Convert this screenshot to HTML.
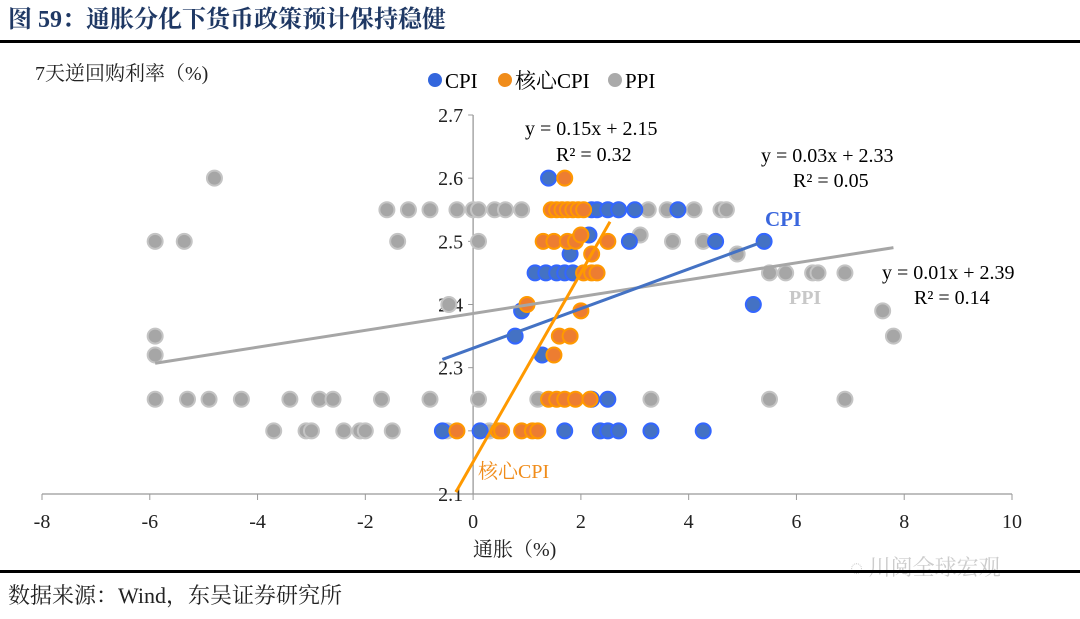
<!DOCTYPE html>
<html><head><meta charset="utf-8">
<style>
body{margin:0;background:#fff;width:1080px;height:614px;overflow:hidden;font-family:"Liberation Serif","Noto Serif CJK SC",serif;}
svg text{font-family:"Liberation Serif","Noto Serif CJK SC",serif;}
</style></head>
<body>
<svg id="chart" width="1080" height="614">
<text x="8" y="27" font-size="24" font-weight="bold" fill="#1f3864">图 59：通胀分化下货币政策预计保持稳健</text>
<rect x="0" y="40" width="1080" height="3" fill="#000"/>
<text x="35" y="80" font-size="20" fill="#222">7天逆回购利率（%)</text>
<g>
<g><circle cx="435" cy="80" r="7" fill="#3366dd"/><text x="445" y="88" font-size="21">CPI</text></g>
<g><circle cx="505" cy="80" r="7" fill="#f08c1a"/><text x="515" y="88" font-size="21">核心CPI</text></g>
<g><circle cx="615" cy="80" r="7" fill="#aaa"/><text x="625" y="88" font-size="21">PPI</text></g>
</g>
<g id="axes"></g>
<g id="marks"></g>
<text x="525" y="135" font-size="20">y = 0.15x + 2.15</text>
<text x="556" y="161" font-size="20">R² = 0.32</text>
<text x="761" y="162" font-size="20">y = 0.03x + 2.33</text>
<text x="793" y="187" font-size="20">R² = 0.05</text>
<text x="882" y="279" font-size="20">y = 0.01x + 2.39</text>
<text x="914" y="304" font-size="20">R² = 0.14</text>
<text x="765" y="226" font-size="21" font-weight="bold" fill="#3a66dd">CPI</text>
<text x="789" y="304" font-size="20" font-weight="bold" fill="#c8c8c8">PPI</text>
<text x="478" y="478" font-size="20" fill="#f08c1a">核心CPI</text>
<text x="473" y="556" font-size="20" fill="#222">通胀（%)</text>
<text x="850" y="575" font-size="22" fill="#ccc">◌ 川阅全球宏观</text>
<rect x="0" y="570" width="1080" height="3" fill="#000"/>
<text x="8" y="603" font-size="22" fill="#222">数据来源：Wind，东吴证券研究所</text>
</svg>
<script>
const xTicks=[-8,-6,-4,-2,0,2,4,6,8,10];
const yTicks=[2.1,2.2,2.3,2.4,2.5,2.6,2.7];
const ppiX=[-4.8,-5.9,-5.36,-1.4,0.1,-1.6,-1.2,-0.8,-0.3,0,0.1,0.4,0.6,0.9,2.7,3.25,3.6,4.1,4.6,4.7,3.7,4.27,3.1,4.9,5.5,5.8,6.3,6.4,6.9,7.6,7.8,5.5,6.9,-0.45,-5.9,-5.9,-5.9,-5.3,-4.9,-4.3,-3.4,-2.85,-2.6,-1.7,-0.8,0.1,1.2,3.3,-3.7,-3.1,-3.0,-2.4,-2.1,-2.0,-1.5,-0.48,0.3];
const ppiY=[2.6,2.5,2.5,2.5,2.5,2.55,2.55,2.55,2.55,2.55,2.55,2.55,2.55,2.55,2.55,2.55,2.55,2.55,2.55,2.55,2.5,2.5,2.51,2.48,2.45,2.45,2.45,2.45,2.45,2.39,2.35,2.25,2.25,2.4,2.35,2.32,2.25,2.25,2.25,2.25,2.25,2.25,2.25,2.25,2.25,2.25,2.25,2.25,2.2,2.2,2.2,2.2,2.2,2.2,2.2,2.2,2.2];
const cpiX=[1.4,2.2,2.3,2.5,2.7,3.0,3.8,2.15,2.9,4.5,5.4,1.8,1.15,1.35,1.55,1.7,1.85,5.2,0.9,0.78,1.28,2.2,2.5,-0.57,0.13,1.7,2.36,2.5,2.7,3.3,4.27];
const cpiY=[2.6,2.55,2.55,2.55,2.55,2.55,2.55,2.51,2.5,2.5,2.5,2.48,2.45,2.45,2.45,2.45,2.45,2.4,2.39,2.35,2.32,2.25,2.25,2.2,2.2,2.2,2.2,2.2,2.2,2.2,2.2];
const coreX=[1.7,1.45,1.55,1.65,1.75,1.85,1.95,2.05,1.3,1.5,1.75,1.9,2.5,2.0,2.2,2.05,2.2,2.3,1.0,2.0,1.6,1.8,1.5,1.4,1.55,1.7,1.9,2.17,-0.3,0.47,0.53,0.9,1.1,1.2];
const coreY=[2.6,2.55,2.55,2.55,2.55,2.55,2.55,2.55,2.5,2.5,2.5,2.5,2.5,2.51,2.48,2.45,2.45,2.45,2.4,2.39,2.35,2.35,2.32,2.25,2.25,2.25,2.25,2.25,2.2,2.2,2.2,2.2,2.2,2.2];
const trendCpiX=[-0.57,5.4], trendCpiY=[2.313,2.5];
const trendPpiX=[-5.9,7.8], trendPpiY=[2.307,2.49];
const trendCoreX=[-0.32,2.54], trendCoreY=[2.103,2.531];

const NS="http://www.w3.org/2000/svg";
function sx(v){return 42+(v+8)*(970/18);}
function sy(v){return 494-(v-2.1)*(379/0.6);}
function mk(tag,attrs,parent){const e=document.createElementNS(NS,tag);for(const k in attrs)e.setAttribute(k,attrs[k]);parent.appendChild(e);return e;}
const axes=document.getElementById('axes'), marks=document.getElementById('marks');
let el=mk('line',{x1:sx(-8),x2:sx(10),y1:sy(2.1),y2:sy(2.1),stroke:'#999','stroke-width':1.3},axes);


el=mk('line',{x1:sx(0),x2:sx(0),y1:sy(2.7),y2:sy(2.1),stroke:'#999','stroke-width':1.3},axes);


xTicks.forEach(t=>{
 let l=mk('line',{x1:sx(t),x2:sx(t),y1:sy(2.1),y2:sy(2.1)+6,stroke:'#999'},axes);
 
 
 let tx=mk('text',{x:sx(t),y:528,'text-anchor':'middle','font-size':20,fill:'#222'},axes);
 tx.textContent=t;
 
 
});
yTicks.forEach(t=>{
 let l=mk('line',{x1:sx(0)-5,x2:sx(0),y1:sy(t),y2:sy(t),stroke:'#999'},axes);
 
 
 let tx=mk('text',{x:sx(0)-10,y:sy(t)+7,'text-anchor':'end','font-size':20,fill:'#222'},axes);
 tx.textContent=t.toFixed(1);
 
 
});
function series(xs,ys,fill,stroke,name){
 xs.forEach((x,i)=>{
  const c=mk('circle',{cx:sx(x),cy:sy(ys[i]),r:7.5,fill:fill,stroke:stroke,'stroke-width':2},marks);
  
  
 });
}
series(ppiX,ppiY,'#a6a6a6','#c4c4c4','ppi-point');
series(cpiX,cpiY,'#4472c4','#3366ff','cpi-point');
series(coreX,coreY,'#ed7d31','#ff9900','core-cpi-point');
function trend(xs,ys,color,name){
 const l=mk('line',{x1:sx(xs[0]),y1:sy(ys[0]),x2:sx(xs[1]),y2:sy(ys[1]),stroke:color,'stroke-width':3},marks);
 
 
}
trend(trendPpiX,trendPpiY,'#a6a6a6','ppi-trendline');
trend(trendCpiX,trendCpiY,'#4472c4','cpi-trendline');
trend(trendCoreX,trendCoreY,'#ff9900','core-cpi-trendline');
</script>
</body></html>
